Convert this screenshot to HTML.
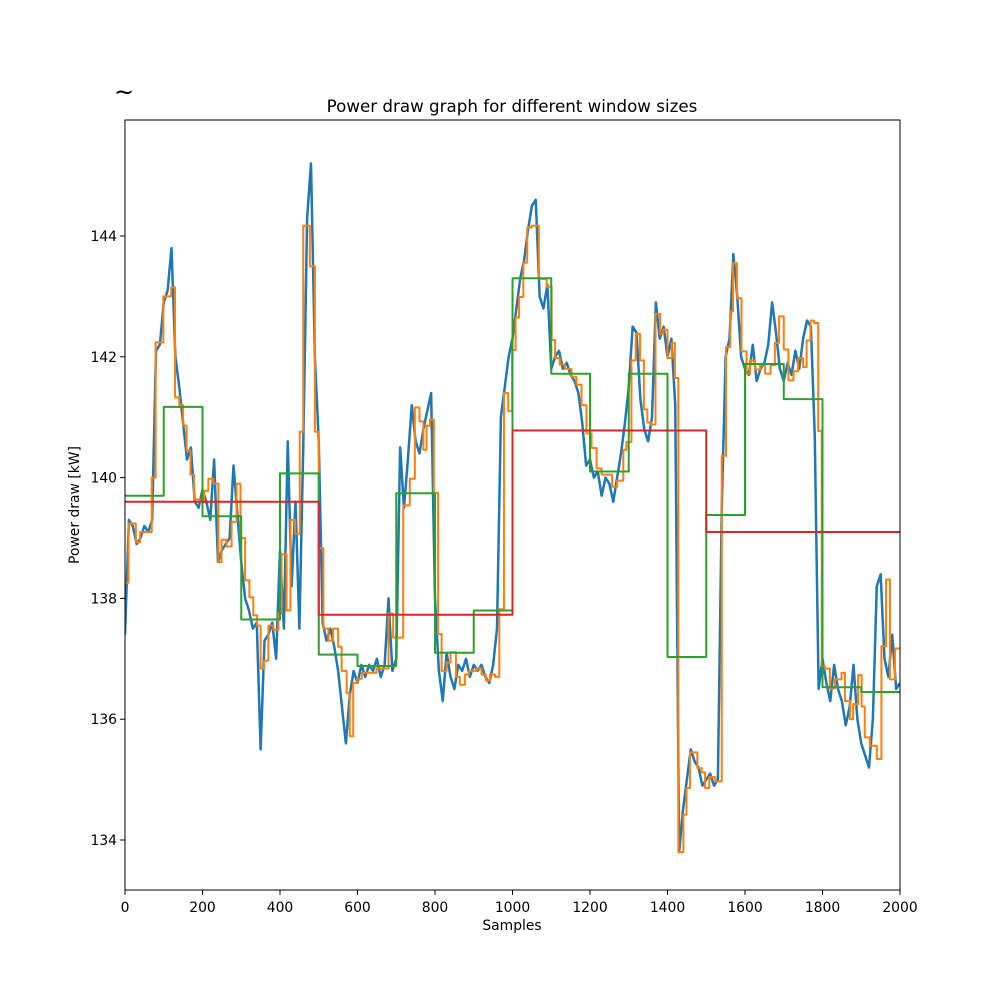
<!DOCTYPE html>
<html><head><meta charset="utf-8"><style>
html,body{margin:0;padding:0;background:#fff;}
svg{display:block;font-family:"DejaVu Sans","Liberation Sans",sans-serif;}
</style></head><body>
<svg id="chart" width="1000" height="1000" viewBox="0 0 1000 1000">
<text x="124" y="100" font-size="24" text-anchor="middle">~</text>
<text x="512" y="112" font-size="16.7" text-anchor="middle">Power draw graph for different window sizes</text>
<text x="512" y="930" font-size="13.9" text-anchor="middle">Samples</text>
<text x="79" y="505" font-size="13.9" text-anchor="middle" transform="rotate(-90 79 505)">Power draw [kW]</text>
<defs><clipPath id="plotclip"><rect x="125" y="120" width="775" height="770"/></clipPath></defs>
<g id="series" clip-path="url(#plotclip)"></g>
<g id="axes"></g>
</svg>
<script>
const blueX = [0,10,20,30,40,50,60,70,80,90,100,110,120,130,140,150,160,170,180,190,200,210,220,230,240,250,260,270,280,290,300,310,320,330,340,350,360,370,380,390,400,410,420,430,440,450,460,470,480,490,500,510,520,530,540,550,560,570,580,590,600,610,620,630,640,650,660,670,680,690,700,710,720,730,740,750,760,770,780,790,800,810,820,830,840,850,860,870,880,890,900,910,920,930,940,950,960,970,980,990,1000,1010,1020,1030,1040,1050,1060,1070,1080,1090,1100,1110,1120,1130,1140,1150,1160,1170,1180,1190,1200,1210,1220,1230,1240,1250,1260,1270,1280,1290,1300,1310,1320,1330,1340,1350,1360,1370,1380,1390,1400,1410,1420,1430,1440,1450,1460,1470,1480,1490,1500,1510,1520,1530,1540,1550,1560,1570,1580,1590,1600,1610,1620,1630,1640,1650,1660,1670,1680,1690,1700,1710,1720,1730,1740,1750,1760,1770,1780,1790,1800,1810,1820,1830,1840,1850,1860,1870,1880,1890,1900,1910,1920,1930,1940,1950,1960,1970,1980,1990,2000];
const blueVals = [137.4,139.3,139.2,138.9,139.0,139.2,139.1,139.3,142.1,142.2,142.9,143.1,143.8,142.0,141.5,140.9,140.3,140.5,139.6,139.5,139.8,139.6,139.3,140.3,138.6,138.8,138.9,139.0,140.2,139.4,138.6,138.0,137.8,137.5,137.6,135.5,137.3,137.4,137.6,137.0,138.8,137.5,140.6,138.2,139.6,137.5,140.5,144.3,145.2,142.0,140.6,137.6,137.3,137.5,137.2,136.8,136.2,135.6,136.4,136.8,136.6,136.9,136.7,136.9,136.8,137.0,136.7,136.9,138.0,136.8,137.0,140.5,139.5,140.3,141.2,140.6,140.4,140.8,141.1,141.4,138.0,136.8,136.3,137.1,136.7,136.5,136.9,136.8,137.0,136.7,136.9,136.8,136.9,136.7,136.6,136.9,137.5,141.0,141.5,142.0,142.3,142.8,143.3,143.6,144.1,144.5,144.6,143.0,142.8,143.2,141.8,142.0,142.1,141.8,141.9,141.7,141.6,141.4,140.9,140.2,140.3,140.0,140.1,139.7,140.0,139.9,139.6,140.0,140.4,140.9,141.5,142.5,142.4,141.3,140.8,140.6,141.0,142.9,142.3,142.5,142.0,142.3,141.2,133.8,134.5,135.0,135.5,135.3,135.2,134.9,135.0,135.1,134.9,135.0,139.5,142.0,142.3,143.7,143.0,142.0,141.8,141.7,142.2,141.6,141.8,141.9,142.2,142.9,142.4,141.8,141.6,141.9,141.7,142.1,141.8,142.3,142.6,142.5,140.7,136.5,137.0,136.6,136.3,136.9,136.5,136.3,135.9,136.2,136.9,136.0,135.6,135.4,135.2,136.0,138.2,138.4,137.0,136.7,137.4,136.5,136.6];
const orangeX = [0,9,28,39,69,79,99,119,129,140,150,159,169,178,193,204,215,228,241,249,262,275,288,298,310,321,331,341,350,359,370,383,396,404,417,427,439,451,460,477,490,500,512,525,537,550,559,572,580,589,599,611,649,680,692,705,718,735,748,760,770,778,787,797,808,817,830,840,854,864,877,888,907,920,931,942,955,966,978,989,999,1008,1017,1028,1038,1049,1068,1088,1101,1110,1122,1135,1152,1165,1178,1191,1204,1217,1230,1257,1270,1286,1294,1307,1318,1329,1339,1348,1357,1369,1381,1389,1400,1411,1419,1428,1441,1449,1458,1477,1488,1497,1508,1523,1540,1551,1562,1569,1579,1591,1604,1613,1626,1639,1652,1666,1677,1688,1700,1712,1725,1737,1750,1759,1769,1778,1789,1798,1806,1819,1832,1849,1858,1871,1879,1892,1901,1909,1922,1940,1952,1964,1974,1987];
const orangeVals = [138.26,139.24,138.93,139.1,140.0,142.24,143.0,143.15,141.33,141.2,140.86,140.45,140.05,139.64,139.6,139.78,139.98,139.9,138.6,138.97,138.86,139.27,139.9,139.0,138.3,138.02,137.72,137.55,136.84,136.97,137.55,137.48,137.75,138.73,137.8,139.3,139.07,140.76,144.17,143.5,140.76,138.83,137.5,137.3,137.5,137.2,136.8,136.43,135.72,136.6,136.67,136.77,136.84,137.75,137.35,137.35,139.54,139.98,141.16,140.93,140.46,140.86,140.96,139.75,137.41,136.8,136.94,137.11,136.7,136.57,136.74,136.8,136.84,136.74,136.64,136.74,136.7,137.82,141.4,141.1,142.11,142.65,142.99,143.56,144.14,144.17,143.29,143.16,142.28,141.98,141.87,141.8,141.67,141.54,141.2,140.73,140.49,140.15,140.05,139.85,139.95,140.46,140.59,141.94,142.38,141.94,141.13,140.91,140.88,142.71,142.38,142.45,141.98,142.23,141.65,133.8,134.42,134.86,135.45,135.19,135.12,134.86,135.04,134.97,140.36,142.16,142.75,143.55,142.97,142.09,141.72,141.94,141.79,141.86,141.72,141.86,142.23,142.67,142.12,141.61,141.76,141.98,141.83,142.27,142.6,142.56,140.77,136.88,136.84,136.51,136.66,136.77,136.3,136.0,136.25,136.73,136.21,135.7,135.56,135.34,137.21,138.31,136.66,137.17,136.58];
const greenVals = [139.7,141.17,139.36,137.65,140.07,137.07,136.88,139.74,137.1,137.8,143.3,141.72,140.1,141.72,137.03,139.38,141.88,141.3,136.53,136.45];
const redVals = [139.6,137.73,140.78,139.1];
const xTicks = [0,200,400,600,800,1000,1200,1400,1600,1800,2000];
const yTicks = [134,136,138,140,142,144];

const NS = "http://www.w3.org/2000/svg";
const X0=125, X1=900, Y0=890, Y1=120;
function xs(v){ return X0 + (v-0)/(2000-0)*(X1-X0); }
function ys(v){ return 840 - (v-134)*60.4; }
const series = document.getElementById('series');
const axes = document.getElementById('axes');

function stepPath(xArr, vals, xEnd){
  let d = '';
  for (let i=0;i<vals.length;i++){
    const xa = xs(xArr[i]), xb = xs(i+1<xArr.length ? xArr[i+1] : xEnd), y = ys(vals[i]);
    d += (i===0 ? 'M' : 'L') + xa.toFixed(2) + ',' + y.toFixed(2) + 'L' + xb.toFixed(2) + ',' + y.toFixed(2);
  }
  return d;
}
function addPath(d, color, w, name){
  const p = document.createElementNS(NS,'path');
  p.setAttribute('d', d);
  p.setAttribute('fill','none');
  p.setAttribute('stroke', color);
  p.setAttribute('stroke-width', w);
  p.setAttribute('stroke-linejoin','round');
  
  
  series.appendChild(p);
}
let bd = '';
for (let i=0;i<blueVals.length;i++){
  bd += (i===0?'M':'L') + xs(blueX[i]).toFixed(2) + ',' + ys(blueVals[i]).toFixed(2);
}
addPath(bd, '#1f77b4', 2.5, 'raw-power-line');
addPath(stepPath(orangeX, orangeVals, 2000), '#ff7f0e', 2, 'window-20-line');
const gX = greenVals.map((v,i)=>i*100);
addPath(stepPath(gX, greenVals, 2000), '#2ca02c', 2, 'window-100-line');
const rX = redVals.map((v,i)=>i*500);
addPath(stepPath(rX, redVals, 2000), '#d62728', 2, 'window-500-line');

const frame = document.createElementNS(NS,'rect');
frame.setAttribute('x', X0); frame.setAttribute('y', Y1);
frame.setAttribute('width', X1-X0); frame.setAttribute('height', Y0-Y1);
frame.setAttribute('fill','none'); frame.setAttribute('stroke','#000'); frame.setAttribute('stroke-width','1');


axes.appendChild(frame);

xTicks.forEach(t=>{
  const x = xs(t);
  const l = document.createElementNS(NS,'line');
  l.setAttribute('x1',x); l.setAttribute('x2',x); l.setAttribute('y1',Y0); l.setAttribute('y2',Y0+4.9);
  l.setAttribute('stroke','#000');
  
  
  axes.appendChild(l);
  const tx = document.createElementNS(NS,'text');
  tx.setAttribute('x',x); tx.setAttribute('y',Y0+22);
  tx.setAttribute('font-size','13.9'); tx.setAttribute('text-anchor','middle');
  tx.textContent = t;
  
  
  axes.appendChild(tx);
});
yTicks.forEach(t=>{
  const y = ys(t);
  const l = document.createElementNS(NS,'line');
  l.setAttribute('x1',X0-4.9); l.setAttribute('x2',X0); l.setAttribute('y1',y); l.setAttribute('y2',y);
  l.setAttribute('stroke','#000');
  
  
  axes.appendChild(l);
  const tx = document.createElementNS(NS,'text');
  tx.setAttribute('x',X0-8); tx.setAttribute('y',y+5);
  tx.setAttribute('font-size','13.9'); tx.setAttribute('text-anchor','end');
  tx.textContent = t;
  
  
  axes.appendChild(tx);
});
</script>
</body></html>
